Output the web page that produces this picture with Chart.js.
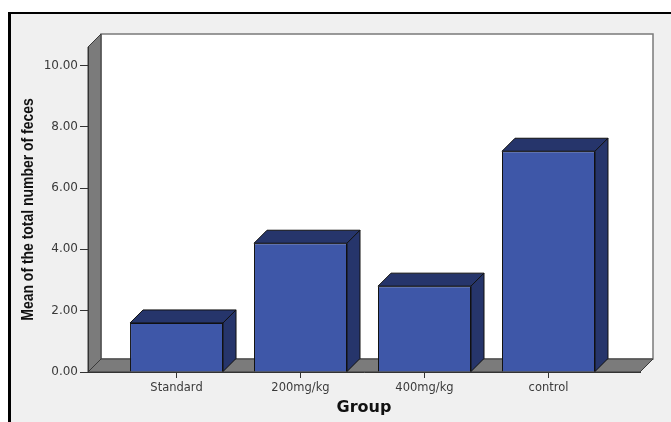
<!DOCTYPE html>
<html>
<head>
<meta charset="utf-8">
<script src="https://cdn.jsdelivr.net/npm/chart.js@4"></script>
<style>
  html, body { margin: 0; padding: 0; background: #ffffff; }
  #wrap { width: 671px; height: 422px; }
</style>
</head>
<body>
<div id="wrap"><canvas id="c" width="671" height="422"></canvas></div>
<script>
// ---- data ----
const categories = ['Standard', '200mg/kg', '400mg/kg', 'control'];
const meanFeces = [1.6, 4.2, 2.8, 7.2];
const yTickValues = [0, 2, 4, 6, 8, 10];
const yTitle = 'Mean of the total number of feces';
const xTitle = 'Group';

// ---- styling ----
const DEPTH = 13;
const FRONT = '#3e57a8';
const DARK = '#26356b';
const WALL = '#7b7b7b';

const frame3d = {
  id: 'frame3d',
  beforeDraw(chart) {
    const ctx = chart.ctx;
    const a = chart.chartArea;
    const d = DEPTH;
    ctx.save();
    ctx.fillStyle = '#ffffff';
    ctx.fillRect(0, 0, chart.width, chart.height);
    ctx.fillStyle = '#f0f0f0';
    ctx.fillRect(9, 13, chart.width - 9, chart.height - 13);
    ctx.fillStyle = '#000000';
    ctx.fillRect(8, 12, chart.width - 8, 2);
    ctx.fillRect(8, 12, 3, chart.height - 12);

    // back wall
    ctx.fillStyle = '#ffffff';
    ctx.fillRect(a.left + d, a.top - d, a.right - a.left, a.bottom - a.top);
    ctx.strokeStyle = '#7a7a7a';
    ctx.lineWidth = 1.5;
    ctx.strokeRect(a.left + d, a.top - d, a.right - a.left, a.bottom - a.top);

    ctx.lineWidth = 1;
    ctx.strokeStyle = '#3a3a3a';
    ctx.fillStyle = WALL;
    // left wall
    ctx.beginPath();
    ctx.moveTo(a.left, a.top);
    ctx.lineTo(a.left + d, a.top - d);
    ctx.lineTo(a.left + d, a.bottom - d);
    ctx.lineTo(a.left, a.bottom);
    ctx.closePath();
    ctx.fill();
    ctx.stroke();
    // floor
    ctx.beginPath();
    ctx.moveTo(a.left, a.bottom);
    ctx.lineTo(a.left + d, a.bottom - d);
    ctx.lineTo(a.right + d, a.bottom - d);
    ctx.lineTo(a.right, a.bottom);
    ctx.closePath();
    ctx.fill();
    ctx.stroke();
    ctx.restore();
  },
  afterDatasetsDraw(chart) {
    const ctx = chart.ctx;
    const d = DEPTH;
    const meta = chart.getDatasetMeta(0);
    ctx.save();
    ctx.lineWidth = 1;
    ctx.strokeStyle = '#111111';
    ctx.fillStyle = DARK;
    meta.data.forEach(bar => {
      const p = bar.getProps(['x', 'y', 'base', 'width'], true);
      const x0 = p.x - p.width / 2, x1 = p.x + p.width / 2;
      const y = p.y, b = p.base;
      ctx.beginPath();
      ctx.moveTo(x0, y);
      ctx.lineTo(x0 + d, y - d);
      ctx.lineTo(x1 + d, y - d);
      ctx.lineTo(x1, y);
      ctx.closePath();
      ctx.fill();
      ctx.stroke();
      ctx.beginPath();
      ctx.moveTo(x1, y);
      ctx.lineTo(x1 + d, y - d);
      ctx.lineTo(x1 + d, b - d);
      ctx.lineTo(x1, b);
      ctx.closePath();
      ctx.fill();
      ctx.stroke();
    });
    ctx.restore();
  },
  afterDraw(chart) {
    // y-axis title, narrow bold (Arial Narrow look)
    const ctx = chart.ctx;
    const a = chart.chartArea;
    ctx.save();
    ctx.translate(28.5, (a.top + a.bottom) / 2);
    ctx.rotate(-Math.PI / 2);
    ctx.scale(0.82, 1);
    ctx.font = "bold 17px 'Liberation Sans', Arial, sans-serif";
    ctx.fillStyle = '#111111';
    ctx.textAlign = 'center';
    ctx.textBaseline = 'middle';
    ctx.fillText(yTitle, 0, 0);
    ctx.restore();
  }
};

new Chart(document.getElementById('c'), {
  type: 'bar',
  data: {
    datasets: [{
      data: categories.map((c, i) => ({ x: i, y: meanFeces[i] })),
      backgroundColor: FRONT,
      borderColor: '#111111',
      borderWidth: 1,
      barPercentage: 0.75,
      categoryPercentage: 1.0
    }]
  },
  options: {
    responsive: false,
    animation: false,
    devicePixelRatio: 1,
    layout: { padding: { left: 0, right: 31, top: 47, bottom: 0 } },
    plugins: { legend: { display: false }, tooltip: { enabled: false } },
    scales: {
      x: {
        type: 'linear',
        offset: false,
        min: -0.714,
        max: 3.738,
        afterBuildTicks: s => { s.ticks = categories.map((c, i) => ({ value: i })); },
        afterFit: s => { s.height = 50; },
        ticks: {
          callback: v => categories[v] ?? '',
          font: { family: 'DejaVu Sans', size: 11.5 },
          color: '#3a3a3a',
          padding: 3,
          maxRotation: 0,
          autoSkip: false
        },
        grid: { offset: false, drawOnChartArea: false, tickLength: 6, tickColor: '#333333' },
        border: { display: true, color: '#333333', width: 1 },
        title: {
          display: true,
          text: xTitle,
          font: { family: 'DejaVu Sans', size: 16, weight: 'bold' },
          color: '#111111',
          padding: { top: 0, bottom: 4.4 }
        }
      },
      y: {
        min: 0,
        max: 10.6,
        afterBuildTicks: s => { s.ticks = yTickValues.map(v => ({ value: v })); },
        afterFit: s => { s.width = 88; },
        ticks: {
          callback: v => Number(v).toFixed(2),
          font: { family: 'DejaVu Sans', size: 12 },
          color: '#3a3a3a',
          padding: 2
        },
        grid: { drawOnChartArea: false, tickLength: 8, tickColor: '#333333' },
        border: { display: true, color: '#333333', width: 1 },
        title: { display: false, text: yTitle }
      }
    }
  },
  plugins: [frame3d]
});
</script>
</body>
</html>
